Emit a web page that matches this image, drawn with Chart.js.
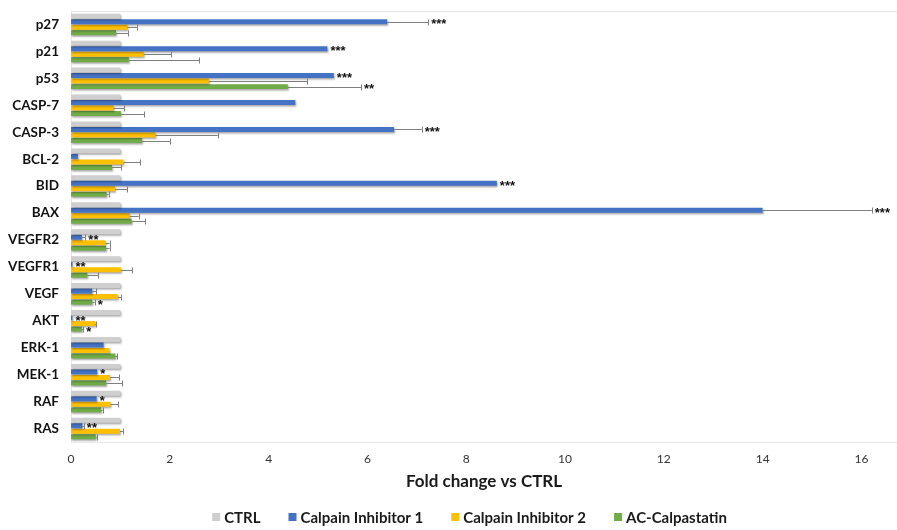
<!DOCTYPE html>
<html>
<head>
<meta charset="utf-8">
<script src="https://cdn.jsdelivr.net/npm/chart.js@4.4.1/dist/chart.umd.min.js"></script>
<style>
  html, body { margin: 0; padding: 0; background: #ffffff; }
  #wrap { width: 897px; height: 530px; position: relative; }
</style>
</head>
<body>
<div id="wrap"><canvas id="chart" width="897" height="530"></canvas></div>
<script>
// Gene targets, top to bottom
const categories = ['p27', 'p21', 'p53', 'CASP-7', 'CASP-3', 'BCL-2', 'BID', 'BAX',
  'VEGFR2', 'VEGFR1', 'VEGF', 'AKT', 'ERK-1', 'MEK-1', 'RAF', 'RAS'];

const seriesNames = ['CTRL', 'Calpain Inhibitor 1', 'Calpain Inhibitor 2', 'AC-Calpastatin'];

// Fold change vs CTRL
const ctrlValues   = [1, 1, 1, 1, 1, 1, 1, 1, 1, 1, 1, 1, 1, 1, 1, 1];
const inhibitor1   = [6.40, 5.19, 5.32, 4.54, 6.54, 0.14, 8.62, 14.0, 0.22, 0.03, 0.43, 0.03, 0.66, 0.53, 0.52, 0.23];
const inhibitor2   = [1.14, 1.47, 2.79, 0.86, 1.71, 1.06, 0.89, 1.19, 0.70, 1.01, 0.95, 0.49, 0.78, 0.79, 0.80, 0.99];
const calpastatin  = [0.91, 1.17, 4.39, 1.01, 1.44, 0.83, 0.72, 1.23, 0.71, 0.33, 0.43, 0.22, 0.90, 0.71, 0.61, 0.50];

// Positive error bars (SD)
const inhibitor1Err  = [0.83, 0, 0, 0, 0.56, 0, 0, 2.21, 0.07, 0, 0.08, 0, 0, 0, 0, 0.03];
const inhibitor2Err  = [0.19, 0.56, 1.99, 0.21, 1.26, 0.34, 0.25, 0.18, 0.08, 0.23, 0.07, 0.02, 0, 0.19, 0.16, 0.06];
const calpastatinErr = [0.25, 1.43, 1.48, 0.47, 0.56, 0.19, 0.04, 0.27, 0.07, 0.22, 0.05, 0.03, 0.04, 0.33, 0.03, 0.02];

// Significance marks
const inhibitor1Stars  = ['***', '***', '***', '', '***', '', '***', '***', '**', '**', '', '**', '', '*', '*', '**'];
const calpastatinStars = ['', '', '**', '', '', '', '', '', '', '', '*', '*', '', '', '', ''];

// Axis ticks
const xTickMin = 0;
const xTickMax = 16.72;
const xTickStep = 2;

const FONT = "Lato, 'Open Sans', sans-serif";
const colors = ['#CFCFCF', '#4472C4', '#FFC000', '#70AD47'];

const datasets = [
  { label: seriesNames[0], data: ctrlValues, backgroundColor: colors[0] },
  { label: seriesNames[1], data: inhibitor1, backgroundColor: colors[1], errors: inhibitor1Err, stars: inhibitor1Stars },
  { label: seriesNames[2], data: inhibitor2, backgroundColor: colors[2], errors: inhibitor2Err },
  { label: seriesNames[3], data: calpastatin, backgroundColor: colors[3], errors: calpastatinErr, stars: calpastatinStars }
];

// Soft drop shadow under every bar
const barShadow = {
  id: 'barShadow',
  beforeDatasetDraw(chart) {
    const ctx = chart.ctx;
    ctx.save();
    ctx.shadowColor = 'rgba(0,0,0,0.35)';
    ctx.shadowBlur = 2;
    ctx.shadowOffsetX = 1;
    ctx.shadowOffsetY = 1.5;
  },
  afterDatasetDraw(chart) {
    chart.ctx.restore();
  }
};

// Frame lines along the top and bottom of the plot, faint left axis
const plotFrame = {
  id: 'plotFrame',
  beforeDatasetsDraw(chart) {
    const { ctx, chartArea: a } = chart;
    ctx.save();
    ctx.strokeStyle = '#E6E6E6';
    ctx.lineWidth = 1;
    ctx.beginPath();
    ctx.moveTo(a.left, a.top + 0.5); ctx.lineTo(a.right, a.top + 0.5);
    ctx.moveTo(a.left, a.bottom + 0.5); ctx.lineTo(a.right, a.bottom + 0.5);
    ctx.moveTo(a.left + 0.5, a.top); ctx.lineTo(a.left + 0.5, a.bottom);
    ctx.stroke();
    ctx.restore();
  }
};

// Plus-direction error bars and significance stars
const errorBars = {
  id: 'errorBars',
  afterDatasetsDraw(chart) {
    const { ctx } = chart;
    const xs = chart.scales.x;
    ctx.save();
    chart.data.datasets.forEach((ds, i) => {
      const meta = chart.getDatasetMeta(i);
      meta.data.forEach((bar, j) => {
        const v = ds.data[j];
        const err = ds.errors ? ds.errors[j] : 0;
        let endX = bar.x;
        if (err > 0) {
          endX = xs.getPixelForValue(v + err);
          const y = Math.round(bar.y) + 0.5;
          ctx.strokeStyle = '#7F7F7F';
          ctx.lineWidth = 1;
          ctx.beginPath();
          ctx.moveTo(bar.x, y); ctx.lineTo(endX, y);
          ctx.moveTo(Math.round(endX) + 0.5, y - 3); ctx.lineTo(Math.round(endX) + 0.5, y + 3);
          ctx.stroke();
        }
        const s = ds.stars ? ds.stars[j] : '';
        if (s) {
          ctx.fillStyle = '#111111';
          ctx.font = "bold 13px 'Liberation Sans', Arial, sans-serif";
          ctx.textAlign = 'left';
          ctx.textBaseline = 'middle';
          ctx.fillText(s, Math.max(endX, bar.x) + 3, bar.y + 3);
        }
      });
    });
    ctx.restore();
  }
};

// Legend row under the axis title
const bottomLegend = {
  id: 'bottomLegend',
  afterDraw(chart) {
    const { ctx } = chart;
    ctx.save();
    ctx.font = 'bold 15px ' + FONT;
    ctx.textBaseline = 'middle';
    ctx.textAlign = 'left';
    const box = 8, gap = 4, spacing = 28;
    const widths = seriesNames.map(n => box + gap + ctx.measureText(n).width);
    const total = widths.reduce((a, b) => a + b, 0) + spacing * (widths.length - 1);
    let x = chart.width / 2 + 21 - total / 2;
    const y = 517;
    seriesNames.forEach((n, i) => {
      ctx.fillStyle = colors[i];
      ctx.fillRect(x, y - box / 2, box, box);
      ctx.fillStyle = '#1a1a1a';
      ctx.fillText(n, x + box + gap, y + 1);
      x += widths[i] + spacing;
    });
    ctx.restore();
  }
};

new Chart(document.getElementById('chart'), {
  type: 'bar',
  data: { labels: categories, datasets },
  options: {
    indexAxis: 'y',
    responsive: false,
    animation: false,
    devicePixelRatio: 1,
    layout: { padding: { top: 11, right: 0, bottom: 36, left: 0 } },
    datasets: { bar: { categoryPercentage: 0.82, barPercentage: 0.9 } },
    plugins: {
      legend: { display: false },
      tooltip: { enabled: false }
    },
    scales: {
      x: {
        min: xTickMin,
        max: xTickMax,
        grid: { display: false },
        border: { display: false },
        afterFit(scale) {
          scale.height = 52;
          scale.paddingLeft = 0;
          scale.paddingRight = 0;
        },
        ticks: {
          stepSize: xTickStep,
          includeBounds: false,
          padding: 2,
          color: '#333333',
          font: { family: FONT, size: 12 }
        },
        title: {
          display: true,
          text: 'Fold change vs CTRL',
          color: '#1a1a1a',
          font: { family: FONT, size: 17, weight: 'bold' },
          padding: { top: 5, bottom: 2 }
        }
      },
      y: {
        grid: { display: false },
        border: { display: false },
        afterFit(scale) {
          scale.width = 71;
          scale.paddingTop = 0;
          scale.paddingBottom = 0;
        },
        ticks: {
          padding: 4,
          color: '#111111',
          font: { family: FONT, size: 13.5, weight: 'bold' }
        }
      }
    }
  },
  plugins: [plotFrame, barShadow, errorBars, bottomLegend]
});
</script>
</body>
</html>
